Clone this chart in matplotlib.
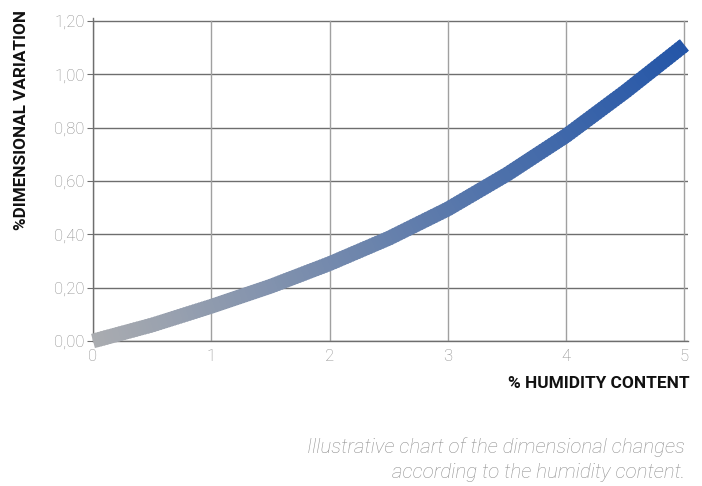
import numpy as np
import matplotlib
matplotlib.use('Agg')
import matplotlib.pyplot as plt
from matplotlib.collections import LineCollection
from matplotlib.colors import LinearSegmentedColormap

plt.rcParams['font.family'] = ['Roboto', 'DejaVu Sans']

# data
humidity = [0, 0.5, 1, 1.5, 2, 2.5, 3, 3.5, 4, 4.5, 5]
variation = [0, 0.06, 0.13, 0.205, 0.29, 0.385, 0.495, 0.625, 0.77, 0.935, 1.11]
x_ticks = [0, 1, 2, 3, 4, 5]
y_ticks = [0, 0.2, 0.4, 0.6, 0.8, 1.0, 1.2]
y_labels = ['0,00', '0,20', '0,40', '0,60', '0,80', '1,00', '1,20']

fig = plt.figure(figsize=(7.02, 4.86), dpi=100)
ax = fig.add_axes([93 / 702, 1 - 341 / 486, (688 - 93) / 702, (341 - 18) / 486])
ax.set_xlim(0, 5.03)
ax.set_ylim(0, 1.211)

# grid
for yv in y_ticks:
    ax.axhline(yv, color='#6e6e6e', lw=1, zorder=1)
for xv in x_ticks:
    ax.axvline(xv, ymax=1.2 / 1.211, color='#a0a0a0', lw=1, zorder=1)

# gradient curve: split each straight piece into short overlapping pieces
cmap = LinearSegmentedColormap.from_list('hum', ['#aaacb0', '#2456a8'])
n = 20
segs, cols = [], []
for i in range(len(humidity) - 1):
    x0, x1 = humidity[i], humidity[i + 1]
    y0, y1 = variation[i], variation[i + 1]
    last = i == len(humidity) - 2
    for k in range(n):
        t = k / n
        t2 = t + 1.0 / n + 0.03
        if last:
            t2 = min(t2, 1.0)
        segs.append([(x0 + (x1 - x0) * t, y0 + (y1 - y0) * t),
                     (x0 + (x1 - x0) * t2, y0 + (y1 - y0) * t2)])
        cols.append((x0 + (x1 - x0) * (t + 0.5 / n)) / 5)
lc = LineCollection(segs, colors=cmap(np.array(cols)), linewidths=10.5,
                    capstyle='butt', joinstyle='round', zorder=3)
lc.set_clip_on(False)
ax.add_collection(lc)

for s in ['top', 'right']:
    ax.spines[s].set_visible(False)
for s in ['left', 'bottom']:
    ax.spines[s].set_color('#6e6e6e')
    ax.spines[s].set_linewidth(1)

ax.set_yticks(y_ticks)
ax.set_yticklabels(y_labels)
ax.set_xticks(x_ticks)
ax.tick_params(axis='y', length=4, color='#6e6e6e', labelsize=12,
               labelcolor='#8c8c8c', pad=2)
ax.tick_params(axis='x', length=0, labelsize=12, labelcolor='#8c8c8c', pad=6)
for lab in ax.get_xticklabels() + ax.get_yticklabels():
    lab.set_fontweight('light')

fig.text(22 / 702, 1 - 10 / 486, '%DIMENSIONAL VARIATION', rotation=90,
         ha='center', va='top', fontsize=12.3, fontweight='bold', color='#111111')
fig.text(690 / 702, 1 - 383 / 486, '% HUMIDITY CONTENT', ha='right', va='center',
         fontsize=12.4, fontweight='bold', color='#111111')

fig.text(685 / 702, 1 - 447 / 486, 'Illustrative chart of the dimensional changes',
         ha='right', va='center', fontsize=14.8, style='italic', fontweight='light',
         color='#8f8f8f')
fig.text(685 / 702, 1 - 472 / 486, 'according to the humidity content.',
         ha='right', va='center', fontsize=14.8, style='italic', fontweight='light',
         color='#8f8f8f')

fig.savefig('out.png', dpi=100)
